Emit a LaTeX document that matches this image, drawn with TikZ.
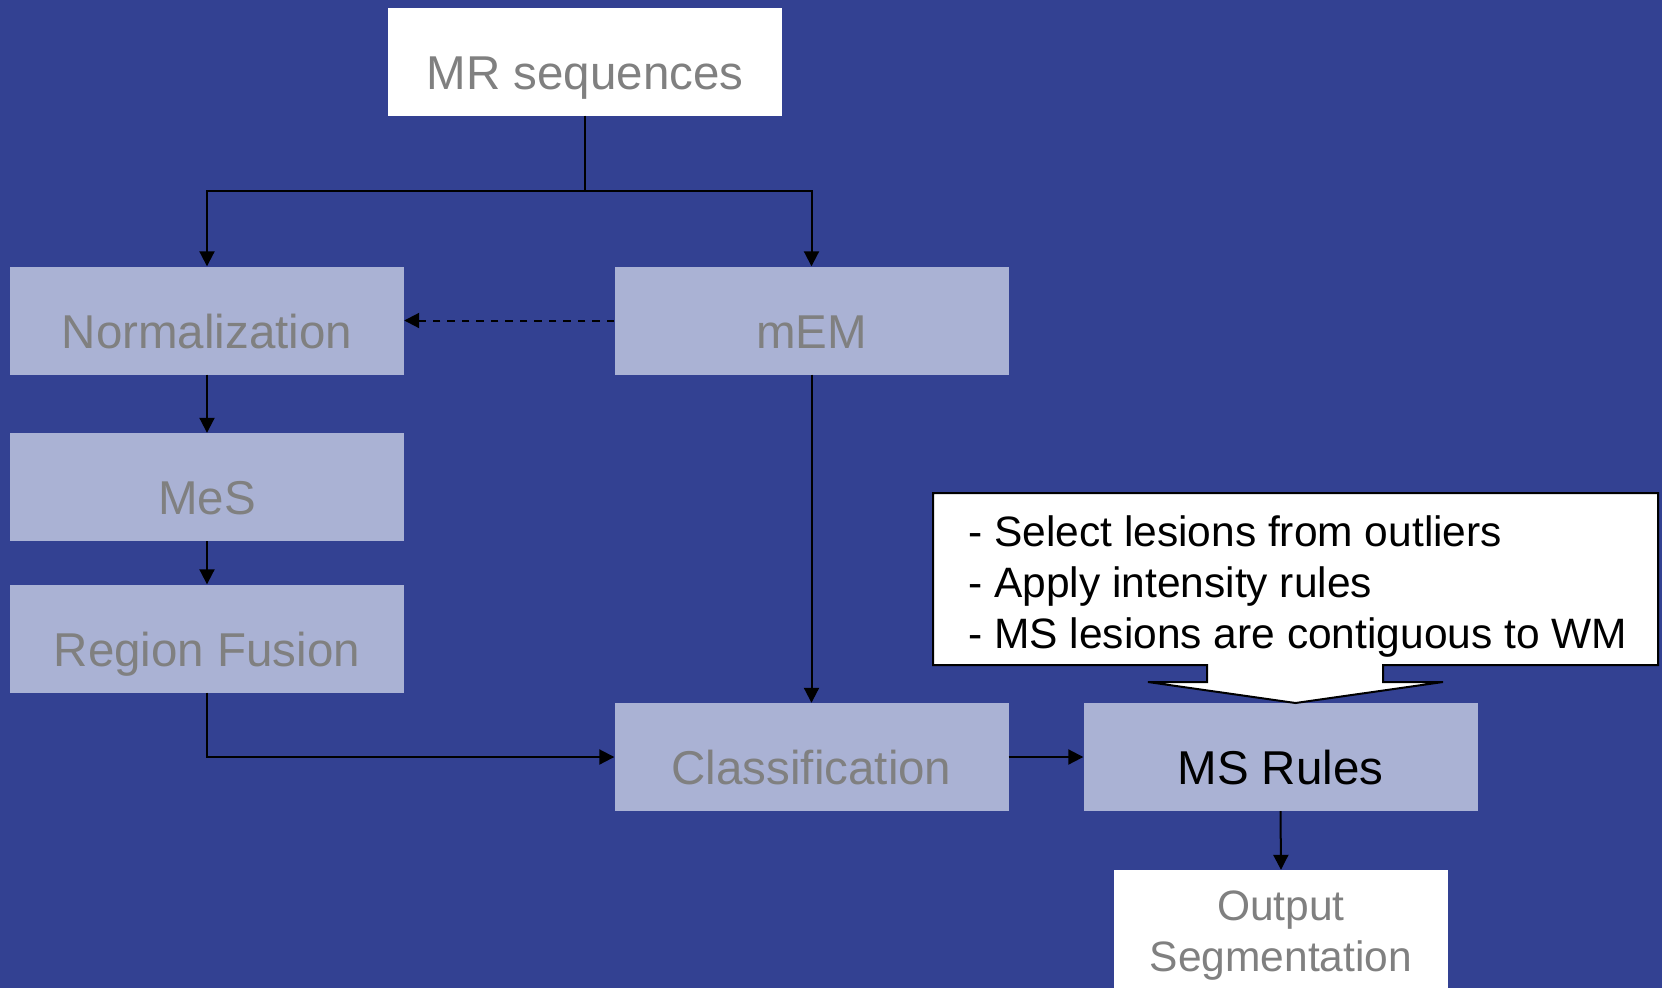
\documentclass[tikz,border=0pt]{standalone}
\usepackage{fontspec}
\setmainfont{Liberation Sans}
\usetikzlibrary{arrows.meta}

\definecolor{bgblue}{RGB}{51,65,146}
\definecolor{paleblue}{RGB}{170,178,212}
\definecolor{labelgray}{RGB}{128,128,128}

\tikzset{
  bigtext/.style={font=\fontsize{47.5}{57}\selectfont},
  smalltext/.style={font=\fontsize{42.5}{51}\selectfont},
  stage/.style={rectangle, fill=paleblue, inner sep=0pt,
    minimum width=394pt, minimum height=108pt,
    text height=55pt, text depth=0pt, bigtext, text=labelgray},
  whitestage/.style={stage, fill=white},
  conn/.style={draw=black, line width=2pt,
    -{Triangle[length=15pt,width=15pt]}},
  plainconn/.style={draw=black, line width=2pt},
  dashconn/.style={conn, dash pattern=on 7.5pt off 7pt}
}

\begin{document}
\begin{tikzpicture}[x=1pt, y=-1pt]
  \useasboundingbox (0,0) rectangle (1662,988);
  \fill[bgblue] (0,0) rectangle (1662,988);

  % processing stages
  \node[whitestage] (mr)   at (585,61.5)   {MR sequences};
  \node[stage]      (norm) at (207,320.5)  {Normalization};
  \node[stage]      (mes)  at (207,487)    {MeS};
  \node[stage]      (rf)   at (207,638.5)  {Region Fusion};
  \node[stage]      (mem)  at (811.5,320.5) {mEM};
  \node[stage]      (cls)  at (811.5,757)  {Classification};
  \node[stage, text=black] (msr) at (1280.5,757) {MS Rules};
  \node[rectangle, fill=white, inner sep=0pt, minimum width=334pt,
        minimum height=132pt, smalltext, text=labelgray, align=center]
        (out) at (1281,936) {Output\\Segmentation};

  % callout with the rule list, pointing down at MS Rules
  \coordinate (tip) at (1295.5,703);
  \filldraw[fill=white, draw=black, line width=2pt, line join=miter]
    (1207,665) -- (933,665) -- (933,493) -- (1658,493) -- (1658,665)
    -- (1383,665) -- (1383,682) -- (1443,682) -- (tip)
    -- (1148,682) -- (1207,682) -- cycle;
  \node[smalltext, align=left, anchor=north west, inner sep=0pt]
    (rules) at (968,515) {- Select lesions from outliers\\- Apply intensity rules\\- MS lesions are contiguous to WM};

  % connectors
  \coordinate (split) at (585,191);
  \draw[plainconn] (mr.south) -- (split);
  \draw[conn] (split) -| (norm.north);
  \draw[conn] (split) -| (mem.north);
  \draw[dashconn] (mem.west) -- (norm.east);
  \draw[conn] (norm.south) -- (mes.north);
  \draw[conn] (mes.south) -- (rf.north);
  \draw[conn] (rf.south) |- (cls.west);
  \draw[conn] (mem.south) -- (cls.north);
  \draw[conn] (cls.east) -- (msr.west);
  \draw[conn] (msr.south) -- (out.north);
\end{tikzpicture}
\end{document}
